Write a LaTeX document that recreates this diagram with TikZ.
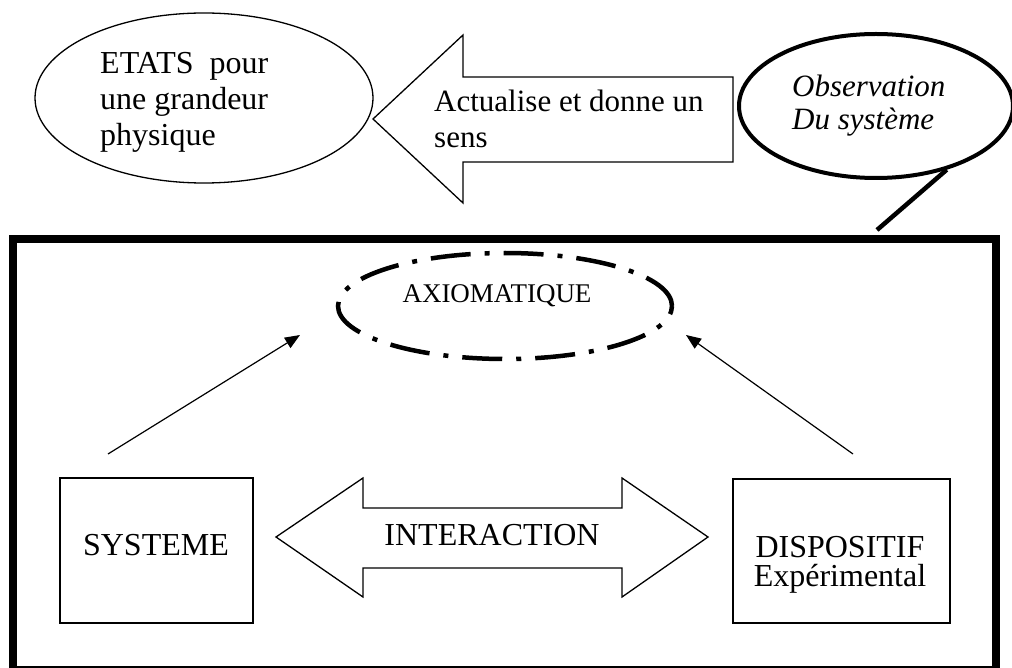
\documentclass[tikz,border=0pt]{standalone}
\usepackage{fontspec}
\setmainfont{Liberation Serif}
\usetikzlibrary{shapes.geometric,arrows.meta}

\tikzset{
  contour/.style={draw, line width=1.3pt},
  bulle/.style={ellipse, draw, line width=1.3pt, inner sep=0pt},
  texte/.style={inner sep=0pt, align=left, anchor=base west},
  fleche/.style={line width=1.2pt, -{Triangle[length=15pt,width=12pt]}}
}

\begin{document}
\begin{tikzpicture}[x=1pt,y=-1pt]
\useasboundingbox (0,0) rectangle (1012,668);

% en haut : etats, fleche, observation
\node[bulle, minimum width=338pt, minimum height=170pt] (etats) at (204,98) {};
\node[texte, font=\fontsize{32}{36}\selectfont] (etatstxt) at (100,146)
  {ETATS\ \ pour\\une grandeur\\physique};
\draw[contour] (373,119) -- (463,35) -- (463,77) -- (733,77) -- (733,162)
  -- (463,162) -- (463,203) -- cycle;
\node[texte, font=\fontsize{31}{36}\selectfont] (actu) at (434,148)
  {Actualise et donne un\\sens};
\node[bulle, line width=4pt, minimum width=274pt, minimum height=144pt] (obs) at (876,106) {};
\node[texte, font=\itshape\fontsize{31}{33}\selectfont] (obstxt) at (792,130)
  {Observation\\Du syst\`eme};
\coordinate (queue) at (877,230);
\draw[line width=4.5pt] (obs.-42) -- (queue);

% le cadre
\draw[line width=8pt] (13,239) rectangle (996,670);

\node[ellipse, draw, line width=4.5pt, dash pattern=on 40pt off 14pt on 5pt off 14pt,
  minimum width=334pt, minimum height=106pt] (axio) at (505,306) {};
\node[texte, anchor=base, font=\fontsize{27}{30}\selectfont] (axiotxt) at (497,303) {AXIOMATIQUE};

\node[contour, minimum width=193pt, minimum height=145pt] (sys) at (156.5,550.5) {};
\node[texte, anchor=base, font=\fontsize{32}{36}\selectfont] (systxt) at (156,555) {SYSTEME};
\node[contour, minimum width=217pt, minimum height=144pt] (disp) at (841.5,551) {};
\node[texte, align=center, anchor=base, font=\fontsize{32}{29}\selectfont] (disptxt) at (840,586)
  {DISPOSITIF\\Exp\'erimental};

\draw[contour] (276,537) -- (363,478) -- (363,508) -- (622,508) -- (622,478) -- (708,537)
  -- (622,597) -- (622,568) -- (363,568) -- (363,597) -- cycle;
\node[texte, anchor=base, font=\fontsize{32}{36}\selectfont] (inter) at (492,545) {INTERACTION};

\coordinate (d1) at (108,454);
\coordinate (f1) at (300,335);
\coordinate (d2) at (853,454);
\coordinate (f2) at (686,335);
\draw[fleche] (d1) -- (f1);
\draw[fleche] (d2) -- (f2);
\end{tikzpicture}
\end{document}
